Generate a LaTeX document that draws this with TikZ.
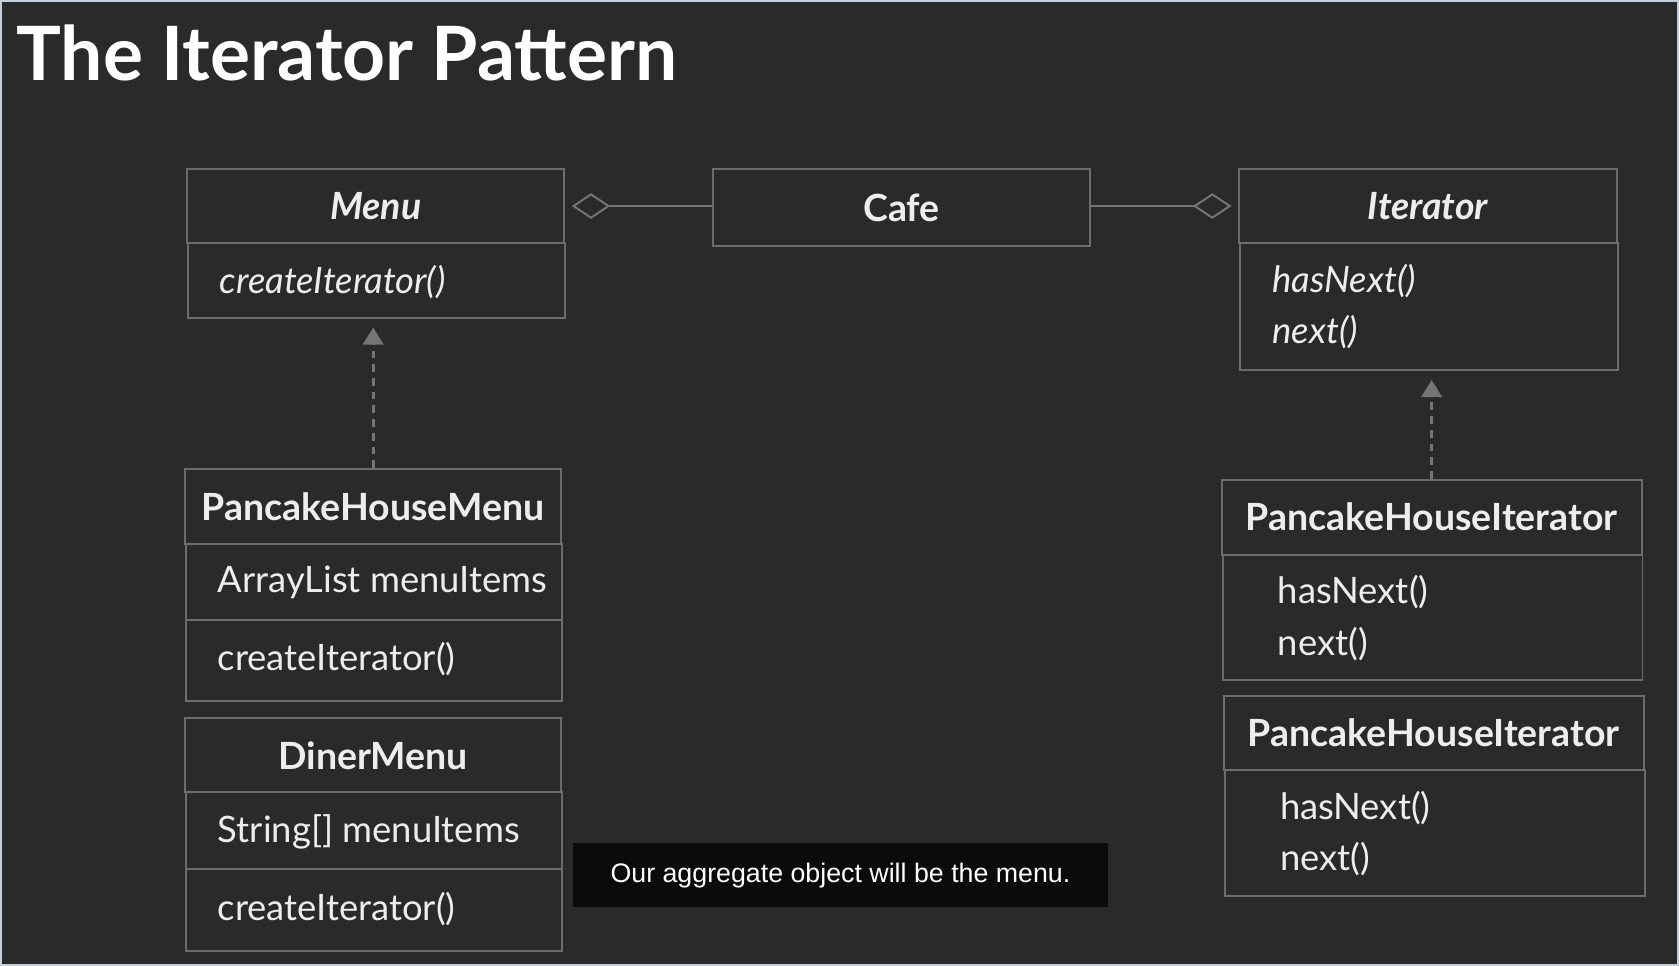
\documentclass[tikz,border=0pt]{standalone}
\usepackage{fontspec}
\setmainfont{Lato}
\newfontfamily\capfont{Liberation Sans}
\usetikzlibrary{positioning,arrows.meta}

\definecolor{slide}{HTML}{2A2A2A}
\definecolor{boxline}{HTML}{6C6C6C}
\definecolor{linkgray}{HTML}{757575}
\definecolor{inkwhite}{HTML}{EDEDED}
\definecolor{frameblue}{HTML}{C5CFD9}
\definecolor{capbg}{HTML}{0B0B0B}

\newcommand\titlefont{\bfseries\fontsize{35}{42}\selectfont}
\newcommand\headfont{\bfseries\fontsize{17.5}{21}\selectfont}
\newcommand\memberfont{\fontsize{17}{20}\selectfont}

\begin{document}
\begin{tikzpicture}[x=0.5pt,y=-0.5pt,
    classbox/.style={draw=boxline, line width=0.9pt, inner sep=0pt, anchor=north west, text=inkwhite, font=\headfont},
    member/.style={anchor=base west, inner sep=0pt, text=inkwhite, font=\memberfont},
    aggr/.style={draw=linkgray, line width=0.9pt, {Diamond[open, length=18pt, width=12pt]}-, shorten <=3pt},
    realize/.style={draw=linkgray, line width=1.4pt, dash pattern=on 3.6pt off 2.8pt, -{Triangle[length=8pt, width=9.5pt]}, shorten >=4pt}]

    % Slide background and frame
    \useasboundingbox (0,0) rectangle (1568,902);
    \fill[frameblue] (0,0) rectangle (1568,902);
    \fill[slide] (2,2) rectangle (1566,900);

    % Title
    \node[anchor=base west, inner sep=0pt, text=white, font=\titlefont] (title) at (15,75) {The Iterator Pattern};

    % Menu
    \node[classbox, minimum width=176pt, minimum height=34.5pt, anchor=north] (menuhead) at (351,157) {\itshape Menu};
    \node[classbox, minimum width=176pt, minimum height=35pt] (menubody) at (175,226) {};
    \node[member] (menuop) at (205,274) {\itshape createIterator()};

    % Cafe
    \node[classbox, minimum width=176pt, minimum height=36pt, anchor=north] (cafe) at (842,157) {Cafe};

    % Iterator
    \node[classbox, minimum width=176.5pt, minimum height=34.5pt, anchor=north] (iterhead) at (1333.5,157) {\itshape Iterator};
    \node[classbox, minimum width=176.5pt, minimum height=59.5pt] (iterbody) at (1157,226) {};
    \node[member] (iterhas) at (1188,273) {\itshape hasNext()};
    \node[member] (iternext) at (1188,321) {\itshape next()};

    % PancakeHouseMenu
    \node[classbox, minimum width=175.5pt, minimum height=35pt, anchor=north] (phmhead) at (348.5,437) {PancakeHouseMenu};
    \node[classbox, minimum width=175.5pt, minimum height=35.5pt] (phmattr) at (173,507) {};
    \node[classbox, minimum width=175.5pt, minimum height=38pt] (phmop) at (173,578) {};
    \node[member] (phmitems) at (203,553) {ArrayList menuItems};
    \node[member] (phmcreate) at (203,626) {createIterator()};

    % DinerMenu
    \node[classbox, minimum width=175.5pt, minimum height=34.5pt, anchor=north] (dmhead) at (348.5,670) {DinerMenu};
    \node[classbox, minimum width=175.5pt, minimum height=36pt] (dmattr) at (173,739) {};
    \node[classbox, minimum width=175.5pt, minimum height=38pt] (dmop) at (173,811) {};
    \node[member] (dmitems) at (203,787) {String[] menuItems};
    \node[member] (dmcreate) at (203,860) {createIterator()};

    % PancakeHouseIterator (twice)
    \node[classbox, minimum width=196pt, minimum height=35pt, anchor=north] (phihead) at (1337,447) {PancakeHouseIterator};
    \node[classbox, minimum width=196pt, minimum height=58.5pt] (phibody) at (1141,517) {};
    \node[member] (phihas) at (1193,564) {hasNext()};
    \node[member] (phinext) at (1193,612) {next()};

    \node[classbox, minimum width=196pt, minimum height=34.5pt, anchor=north] (pjihead) at (1339,649) {PancakeHouseIterator};
    \node[classbox, minimum width=196pt, minimum height=59pt] (pjibody) at (1143,718) {};
    \node[member] (pjihas) at (1195,765) {hasNext()};
    \node[member] (pjinext) at (1195,813) {next()};

    % Links
    \draw[aggr] (menuhead.east) -- (menuhead.east -| cafe.west);
    \draw[aggr] (iterhead.west) -- (iterhead.west -| cafe.east);
    \draw[realize] (phmhead.north) -- (phmhead.north |- menubody.south);
    \draw[realize] (phihead.north) -- (phihead.north |- iterbody.south);

    % Caption
    \node[fill=capbg, minimum width=249.5pt, minimum height=30pt, inner sep=0pt, anchor=north west, text=white, font=\capfont\fontsize{12.5}{15}\selectfont] (caption) at (535,787) {Our aggregate object will be the menu.};
\end{tikzpicture}
\end{document}
